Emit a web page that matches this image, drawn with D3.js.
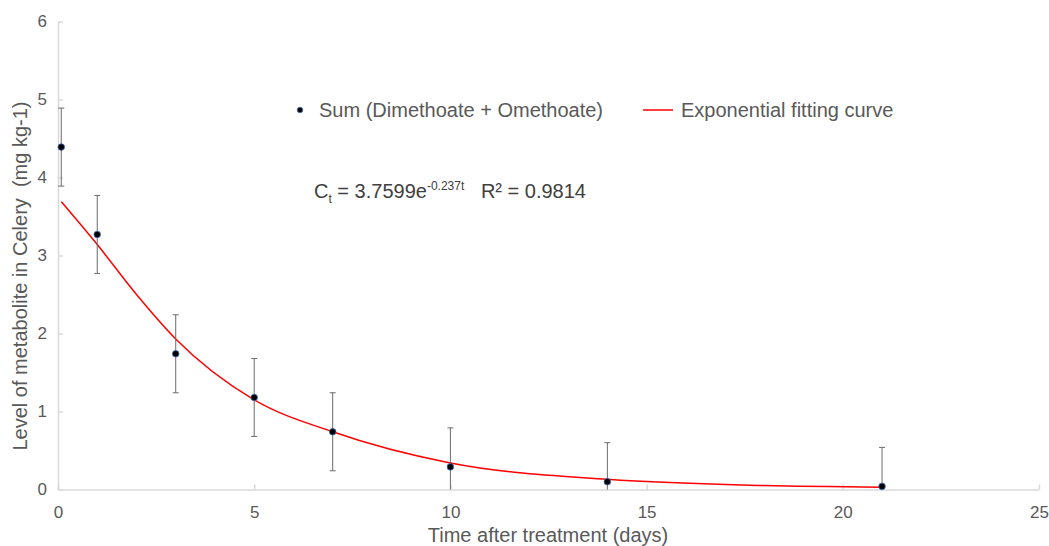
<!DOCTYPE html>
<html>
<head>
<meta charset="utf-8">
<script src="https://cdn.jsdelivr.net/npm/d3@7"></script>
<style>
  body { margin: 0; background: #fff; }
  svg { display: block; font-family: "Liberation Sans", Arial, sans-serif; }
</style>
</head>
<body>
<div id="chart"></div>
<script>
// Measured points (days after treatment, mg/kg)
const days = [0.083, 1, 3, 5, 7, 10, 14, 21];
const levels = [4.39, 3.27, 1.74, 1.18, 0.74, 0.29, 0.10, 0.04];
const errors = [0.5, 0.5, 0.5, 0.5, 0.5, 0.5, 0.5, 0.5];

// Fitting curve
const fitDays = [0.083, 1, 2, 3, 5, 7, 10, 14, 18, 21];
const fitLevels = [3.69, 3.14, 2.5, 1.93, 1.15, 0.74, 0.34, 0.13, 0.05, 0.03];

const xTicks = [0, 5, 10, 15, 20, 25];
const yTicks = [0, 1, 2, 3, 4, 5, 6];

const width = 1049;
const height = 546;
const grey = '#595959';

const svg = d3.select('#chart')
  .append('svg')
  .attr('width', width)
  .attr('height', height);

const x = d3.scaleLinear().domain([0, 25]).range([58, 1039]);
const y = d3.scaleLinear().domain([0, 6]).range([489.5, 21.5]);

// Axes
const xAxis = svg.append('g')
  .attr('transform', `translate(0, ${y(0)})`)
  .call(d3.axisBottom(x).tickValues(xTicks).tickFormat(d3.format('d'))
    .tickSize(-5).tickPadding(16).tickSizeOuter(0));
const yAxis = svg.append('g')
  .attr('transform', `translate(${x(0)}, 0)`)
  .call(d3.axisLeft(y).tickValues(yTicks).tickFormat(d3.format('d'))
    .tickSize(-5).tickPadding(11).tickSizeOuter(0));

[xAxis, yAxis].forEach(a => {
  a.select('.domain').attr('stroke', '#d9d9d9').attr('stroke-width', 1.5);
  a.selectAll('.tick line').attr('stroke', '#d9d9d9').attr('stroke-width', 1.5);
  a.selectAll('.tick text')
    .attr('fill', grey)
    .style('font-size', '17px')
    .style('font-family', '"Liberation Sans", Arial, sans-serif');
});

// Axis titles
svg.append('text')
  .attr('transform', `translate(27, 276) rotate(-90)`)
  .attr('text-anchor', 'middle')
  .attr('fill', grey)
  .style('font-size', '20px')
  .style('white-space', 'pre')
  .text('Level of metabolite in Celery  (mg kg-1)');

svg.append('text')
  .attr('x', 548)
  .attr('y', 542)
  .attr('text-anchor', 'middle')
  .attr('fill', grey)
  .style('font-size', '20px')
  .text('Time after treatment (days)');

// Fitting curve
const line = d3.line()
  .x((d, i) => x(fitDays[i]))
  .y(d => y(d))
  .curve(d3.curveMonotoneX);

svg.append('path')
  .datum(fitLevels)
  .attr('d', line)
  .attr('fill', 'none')
  .attr('stroke', '#ff0000')
  .attr('stroke-width', 1.5);

// Error bars (the lower whisker stops at the axis)
const lo = i => Math.max(0, levels[i] - errors[i]);
const hi = i => levels[i] + errors[i];

const bars = svg.append('g')
  .selectAll('g')
  .data(days)
  .enter()
  .append('g')
  .attr('stroke', '#6b6b6b')
  .attr('stroke-width', 1);

bars.append('line')
  .attr('x1', d => x(d)).attr('x2', d => x(d))
  .attr('y1', (d, i) => y(hi(i)))
  .attr('y2', (d, i) => y(lo(i)));
bars.append('line')
  .attr('x1', d => x(d) - 3).attr('x2', d => x(d) + 3)
  .attr('y1', (d, i) => y(hi(i)))
  .attr('y2', (d, i) => y(hi(i)));
bars.filter((d, i) => levels[i] - errors[i] > 0)
  .append('line')
  .attr('x1', d => x(d) - 3).attr('x2', d => x(d) + 3)
  .attr('y1', d => y(lo(days.indexOf(d))))
  .attr('y2', d => y(lo(days.indexOf(d))));

// Points
svg.append('g')
  .selectAll('circle')
  .data(days)
  .enter()
  .append('circle')
  .attr('cx', d => x(d))
  .attr('cy', (d, i) => y(levels[i]))
  .attr('r', 3.3)
  .attr('fill', '#000')
  .attr('stroke', '#4472c4')
  .attr('stroke-width', 0.8);

// Legend
const legend = svg.append('g');
legend.append('circle')
  .attr('cx', 300).attr('cy', 110).attr('r', 2.8)
  .attr('fill', '#000').attr('stroke', '#4472c4').attr('stroke-width', 0.8);
legend.append('text')
  .attr('x', 319).attr('y', 117)
  .attr('fill', grey)
  .style('font-size', '20px')
  .text('Sum (Dimethoate + Omethoate)');
legend.append('line')
  .attr('x1', 643).attr('x2', 673)
  .attr('y1', 110).attr('y2', 110)
  .attr('stroke', '#ff0000').attr('stroke-width', 1.5);
legend.append('text')
  .attr('x', 681).attr('y', 117)
  .attr('fill', grey)
  .style('font-size', '20px')
  .text('Exponential fitting curve');

// Equation
const eq = svg.append('text')
  .attr('x', 314).attr('y', 198)
  .attr('fill', '#404040')
  .style('font-size', '20px')
  .style('white-space', 'pre');
eq.append('tspan').text('C');
eq.append('tspan').attr('dy', 5).style('font-size', '12px').text('t');
eq.append('tspan').attr('dy', -5).text(' = 3.7599e');
eq.append('tspan').attr('dy', -8).style('font-size', '12px').text('-0.237t');
eq.append('tspan').attr('dy', 8).text('   R² = 0.9814');
</script>
</body>
</html>
